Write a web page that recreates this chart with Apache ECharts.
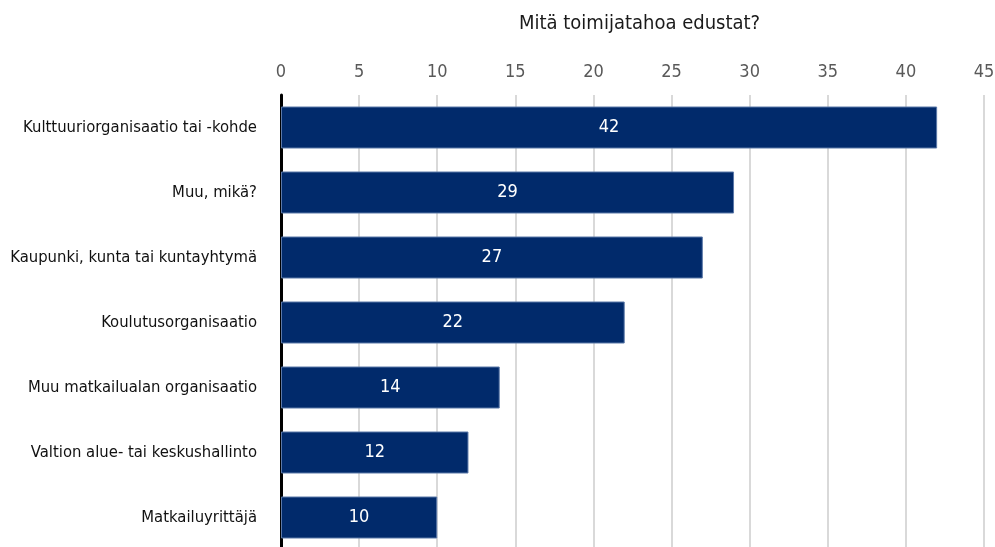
<!DOCTYPE html>
<html>
<head>
<meta charset="utf-8">
<script src="https://cdn.jsdelivr.net/npm/echarts@6/dist/echarts.min.js"></script>
<style>
  html, body { margin: 0; padding: 0; background: #fff; }
  #chart { width: 995px; height: 547px; }
</style>
</head>
<body>
<div id="chart"></div>
<script>
// data
var categories = [
    'Kulttuuriorganisaatio tai -kohde',
    'Muu, mikä?',
    'Kaupunki, kunta tai kuntayhtymä',
    'Koulutusorganisaatio',
    'Muu matkailualan organisaatio',
    'Valtion alue- tai keskushallinto',
    'Matkailuyrittäjä'
];
var counts = [42, 29, 27, 22, 14, 12, 10];

var fontName = '"DejaVu Sans Condensed", sans-serif';

var myChart = echarts.init(document.getElementById('chart'));

var option = {
    backgroundColor: '#fff',
    title: {
        text: 'Mitä toimijatahoa edustat?',
        left: 514,
        top: 9,
        textStyle: {
            fontFamily: fontName,
            fontWeight: 'normal',
            fontSize: 20,
            color: '#1a1a1a'
        }
    },
    grid: {
        left: 281,
        right: 11,
        top: 95,
        height: 455,
        outerBoundsMode: 'none',
        containLabel: false
    },
    xAxis: {
        type: 'value',
        position: 'top',
        min: 0,
        max: 45,
        interval: 5,
        axisLine: { show: false },
        axisTick: { show: false },
        axisLabel: {
            margin: 14,
            fontFamily: fontName,
            fontSize: 18,
            color: '#595959'
        },
        splitLine: {
            lineStyle: { color: '#d9d9d9', width: 2 }
        }
    },
    yAxis: {
        type: 'category',
        data: categories,
        inverse: true,
        axisTick: { show: false },
        axisLine: {
            lineStyle: { color: '#000', width: 3 }
        },
        axisLabel: {
            margin: 24,
            fontFamily: fontName,
            fontSize: 16.5,
            color: '#111'
        }
    },
    series: [
        {
            name: 'Vastaukset',
            type: 'bar',
            data: counts,
            barWidth: 42,
            itemStyle: {
                color: '#012a6b',
                borderColor: '#5b78a8',
                borderWidth: 1
            },
            label: {
                show: true,
                position: 'inside',
                color: '#fff',
                fontFamily: fontName,
                fontSize: 18
            }
        }
    ]
};
myChart.setOption(option);
</script>
</body>
</html>
